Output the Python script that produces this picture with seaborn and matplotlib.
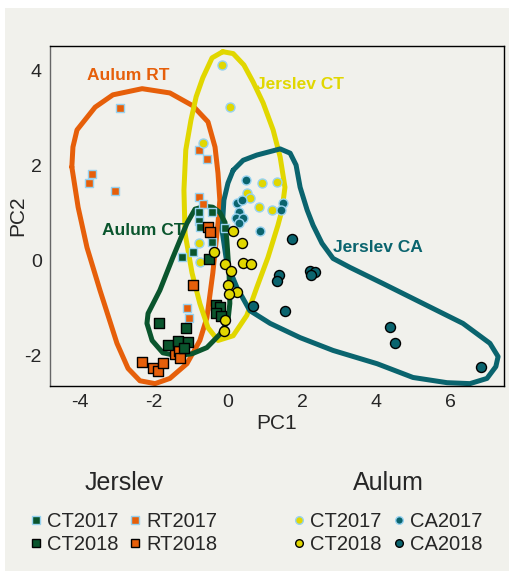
import numpy as np
import pandas as pd
import matplotlib
matplotlib.use("Agg")
import matplotlib.pyplot as plt
from matplotlib.lines import Line2D
from matplotlib.patches import Rectangle
import seaborn as sns

# PCA scores
jer_ct17_x = [-0.78, -0.43, -0.78, -0.76, -0.08, -0.43, -1.24, -0.95]
jer_ct17_y = [1.01, 1.01, 0.82, 0.70, 0.68, 0.38, 0.08, 0.17]
jer_ct18_x = [-1.86, -1.14, -1.62, -1.35, -1.08, -1.19, -0.32, -0.22, -0.32, -0.19, -0.51]
jer_ct18_y = [-1.33, -1.42, -1.78, -1.71, -1.73, -1.84, -0.95, -0.99, -1.12, -1.18, 0.02]
jer_rt17_x = [-2.92, -3.68, -3.76, -3.05, -0.78, -0.57, -0.78, -0.68, -1.11, -1.05]
jer_rt17_y = [3.21, 1.82, 1.63, 1.46, 2.33, 2.14, 1.33, 1.18, -1.01, -1.21]
jer_rt18_x = [-0.54, -0.49, -0.95, -2.32, -2.03, -1.89, -1.76, -1.43, -1.32, -1.30]
jer_rt18_y = [0.70, 0.59, -0.51, -2.14, -2.28, -2.33, -2.16, -1.97, -1.92, -2.07]

aul_ct17_x = [-0.16, 0.05, -0.68, 0.92, 1.32, 0.51, 0.59, 0.84, 1.19, -0.78, -0.76]
aul_ct17_y = [4.12, 3.23, 2.47, 1.63, 1.65, 1.42, 1.31, 1.12, 1.06, 0.36, -0.04]
aul_ct18_x = [0.14, 0.38, -0.38, -0.08, 0.41, 0.62, 0.08, 0.00, 0.24, 0.03, -0.08, -0.11]
aul_ct18_y = [0.61, 0.36, 0.17, -0.08, -0.06, -0.08, -0.23, -0.51, -0.66, -0.70, -1.25, -1.48]
aul_ca17_x = [0.49, 0.24, 0.38, 0.30, 0.22, 0.41, 0.30, 1.49, 1.43, 0.86]
aul_ca17_y = [1.69, 1.21, 1.27, 1.01, 0.89, 0.89, 0.78, 1.21, 1.06, 0.61]
aul_ca18_x = [1.73, 1.38, 1.32, 2.22, 2.35, 2.24, 0.68, 1.54, 4.38, 4.51, 6.84]
aul_ca18_y = [0.44, -0.30, -0.44, -0.23, -0.25, -0.30, -0.97, -1.06, -1.40, -1.75, -2.24]

# hand-drawn group outlines (vertices)
rt_hull_x = [-4.22, -4.19, -4.08, -3.59, -3.11, -2.32, -1.57, -0.95, -0.54, -0.35, -0.27, -0.22,
             -0.27, -0.41, -0.57, -0.76, -1.11, -1.57, -1.97, -2.38, -2.70, -3.00, -3.46, -3.81, -4.05]
rt_hull_y = [1.97, 2.39, 2.75, 3.23, 3.49, 3.62, 3.53, 3.26, 2.92, 2.39, 1.84, 1.27,
             0.78, -0.27, -1.21, -1.69, -2.18, -2.49, -2.60, -2.54, -2.28, -1.75, -0.63, 0.27, 1.12]
jct_hull_x = [-0.14, 0.14, 0.43, 0.68, 0.95, 1.22, 1.41, 1.54, 1.46, 1.35, 1.08, 0.78, 0.51,
              0.14, -0.27, -0.54, -0.76, -0.97, -1.16, -1.19, -1.14, -1.00, -0.86, -0.68, -0.43]
jct_hull_y = [4.40, 4.36, 4.12, 3.76, 3.32, 2.75, 2.18, 1.54, 1.06, 0.74, 0.06, -0.57, -1.16,
              -1.59, -1.69, -1.42, -0.91, -0.27, 0.57, 1.48, 2.33, 2.96, 3.45, 3.85, 4.27]
act_hull_x = [-0.62, -0.89, -1.11, -1.49, -1.84, -2.16, -2.19, -2.05, -1.76, -1.38,
              -0.97, -0.57, -0.22, 0.00, 0.05, 0.03, -0.03, -0.08, -0.22, -0.41]
act_hull_y = [1.14, 1.08, 0.78, 0.06, -0.63, -1.12, -1.33, -1.69, -1.95, -2.01,
              -1.97, -1.84, -1.56, -1.27, -0.91, -0.27, 0.42, 0.80, 1.01, 1.12]
ca_hull_x = [0.14, 0.41, 0.78, 1.41, 1.68, 1.84, 1.95, 2.14, 2.30, 2.54, 2.84, 3.30, 4.19, 5.27,
             6.35, 7.08, 7.30, 7.24, 7.00, 6.54, 5.92, 5.00, 4.03, 2.84, 1.95, 1.14, 0.59, 0.24,
             -0.03, -0.16, -0.11, 0.00]
ca_hull_y = [1.90, 2.11, 2.22, 2.35, 2.26, 2.01, 1.54, 1.06, 0.74, 0.36, 0.04, -0.15, -0.49, -0.91,
             -1.33, -1.75, -2.03, -2.24, -2.49, -2.60, -2.58, -2.47, -2.18, -1.90, -1.63, -1.33,
             -1.06, -0.57, -0.06, 0.63, 1.27, 1.63]

x_ticks = [-4, -2, 0, 2, 4, 6]
y_ticks = [-2, 0, 2, 4]

BG = "#f1f1ec"
ORANGE = "#e65f0a"
YELLOW = "#e1d700"
GREEN = "#0a552d"
TEAL = "#0a646e"
LBLUE = "#96d2f0"

sns.set_style("white")
plt.rcParams["font.family"] = ["Liberation Sans", "DejaVu Sans"]
plt.rcParams["axes.unicode_minus"] = False

fig = plt.figure(figsize=(5.1, 5.73), dpi=100, facecolor="white")
fig.patches.append(Rectangle((5 / 510, 0.003), 1, 1 - 8 / 573 - 0.003,
                             transform=fig.transFigure, facecolor=BG, edgecolor="none", zorder=-10))
ax = fig.add_axes([50 / 510, 1 - 386 / 573, 454 / 510, 340 / 573])
ax.set_facecolor(BG)

# outlines
for hx, hy, col in [(rt_hull_x, rt_hull_y, ORANGE), (jct_hull_x, jct_hull_y, YELLOW),
                    (ca_hull_x, ca_hull_y, TEAL), (act_hull_x, act_hull_y, GREEN)]:
    ax.plot(hx + hx[:1], hy + hy[:1], color=col, lw=3.6, solid_joinstyle="round",
            solid_capstyle="round", zorder=2)

groups = [
    (jer_rt17_x, jer_rt17_y, ORANGE, LBLUE, "s", 36),
    (jer_ct17_x, jer_ct17_y, GREEN, LBLUE, "s", 36),
    (aul_ct17_x, aul_ct17_y, YELLOW, LBLUE, "o", 42),
    (aul_ca17_x, aul_ca17_y, TEAL, LBLUE, "o", 42),
    (jer_rt18_x, jer_rt18_y, ORANGE, "black", "s", 50),
    (jer_ct18_x, jer_ct18_y, GREEN, "black", "s", 50),
    (aul_ct18_x, aul_ct18_y, YELLOW, "black", "o", 52),
    (aul_ca18_x, aul_ca18_y, TEAL, "black", "o", 52),
]
for gx, gy, fc, ec, mk, size in groups:
    df = pd.DataFrame({"PC1": gx, "PC2": gy})
    sns.scatterplot(data=df, x="PC1", y="PC2", ax=ax, color=fc, edgecolor=ec, marker=mk,
                    s=size, linewidth=1.0, zorder=3, legend=False)

ax.text(-3.8, 3.9, "Aulum RT", color=ORANGE, fontsize=12.5, fontweight="bold", va="center")
ax.text(0.76, 3.7, "Jerslev CT", color=YELLOW, fontsize=12.5, fontweight="bold", va="center")
ax.text(-3.4, 0.62, "Aulum CT", color=GREEN, fontsize=12.5, fontweight="bold", va="center")
ax.text(2.85, 0.28, "Jerslev CA", color=TEAL, fontsize=12.5, fontweight="bold", va="center")

ax.set_xlim(-4.81, 7.46)
ax.set_ylim(-2.65, 4.52)
ax.set_xticks(x_ticks)
ax.set_yticks(y_ticks)
ax.tick_params(labelsize=14, length=0, pad=6)
ax.set_xlabel("PC1", fontsize=15, labelpad=2)
ax.set_ylabel("PC2", fontsize=15)
ax.yaxis.set_label_coords(-0.05, 0.5)
for s in ax.spines.values():
    s.set_color("black")
    s.set_linewidth(1.0)
ax.spines["left"].set_color("#666666")

def handle(fc, ec, mk):
    return Line2D([], [], linestyle="none", marker=mk, markersize=5.5,
                  markerfacecolor=fc, markeredgecolor=ec, markeredgewidth=1.0)

jer_handles = [handle(GREEN, LBLUE, "s"), handle(GREEN, "black", "s"),
               handle(ORANGE, LBLUE, "s"), handle(ORANGE, "black", "s")]
jer_labels = ["CT2017", "CT2018", "RT2017", "RT2018"]
aul_handles = [handle(YELLOW, LBLUE, "o"), handle(YELLOW, "black", "o"),
               handle(TEAL, LBLUE, "o"), handle(TEAL, "black", "o")]
aul_labels = ["CT2017", "CT2018", "CA2017", "CA2018"]

for hs, ls, title, cx in [(jer_handles, jer_labels, "Jerslev", 124 / 510),
                          (aul_handles, aul_labels, "Aulum", 388 / 510)]:
    leg = fig.legend(hs, ls, title=title, loc="upper center", bbox_to_anchor=(cx, 1 - 463 / 573),
                     ncol=2, frameon=False, fontsize=14.5, title_fontsize=18,
                     handlelength=0.5, handletextpad=0.3, columnspacing=0.6,
                     labelspacing=0.2, borderaxespad=0)
    leg._legend_box.sep = 12

fig.savefig("out.png", dpi=100, facecolor=fig.get_facecolor())
